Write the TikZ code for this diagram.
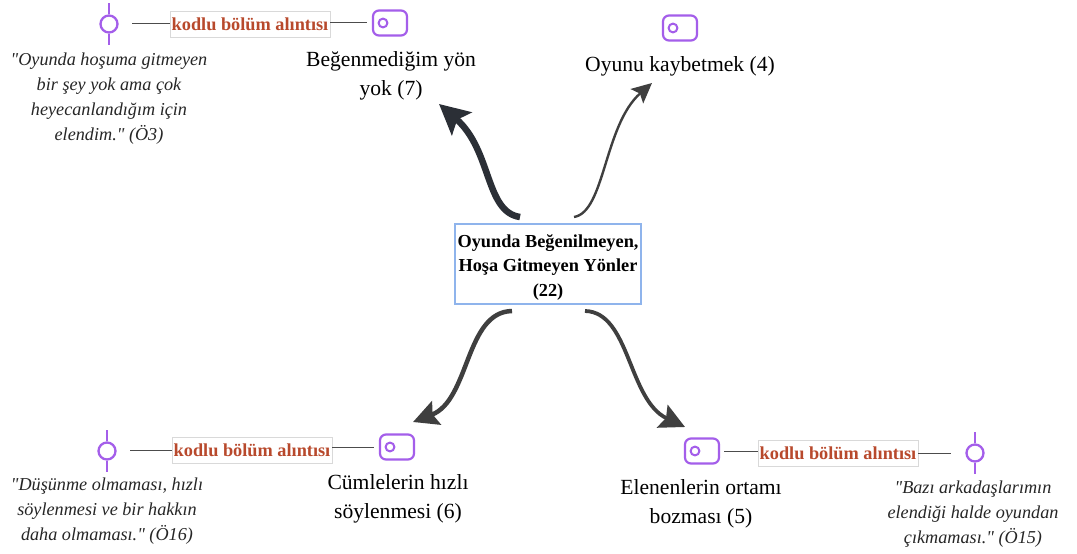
\documentclass[tikz,border=0pt]{standalone}
\usepackage{fontspec}
\setmainfont{Liberation Serif}
\newfontfamily\quotefont{Liberation Serif}
\usetikzlibrary{arrows.meta}
\definecolor{arrowdark}{HTML}{2B2F36}
\definecolor{arrowgrey}{HTML}{3F3F3F}
\definecolor{iconpurple}{HTML}{A45EEA}
\definecolor{boxblue}{HTML}{8FB4EC}
\definecolor{brick}{HTML}{B8492C}
\tikzset{
  x=1pt,y=-1pt,
  centerbox/.style={draw=boxblue,line width=1.4pt,fill=white,minimum width=186pt,minimum height=80pt,inner sep=0pt,align=center,font=\fontsize{18.3}{24.5}\selectfont\bfseries},
  topic/.style={align=center,font=\fontsize{21.6}{29.5}\selectfont,inner sep=0pt},
  quotetext/.style={align=center,font=\quotefont\fontsize{18.2}{25}\selectfont\itshape,text=black!85,inner sep=0pt},
  codelabel/.style={draw=black!15,line width=.6pt,fill=white,text=brick,inner sep=0pt,minimum width=160pt,minimum height=26pt,font=\fontsize{18.3}{20}\selectfont\bfseries},
  link/.style={draw=black!70,line width=1pt},
  iconline/.style={draw=iconpurple,line width=2.3pt},
  tagicon/.style={draw=iconpurple,line width=2.2pt,rounded corners=6pt,minimum width=34pt,minimum height=25pt,inner sep=0pt},
  pinicon/.style={circle,draw=iconpurple,line width=2.3pt,minimum size=17pt,inner sep=0pt},
  thickarrow/.style={arrowdark,line width=6.5pt,-{Stealth[length=30pt,width=30pt,inset=6pt]}},
  midarrow/.style={arrowgrey,line width=4.5pt,-{Stealth[length=25pt,width=25pt,inset=4pt]}},
  slimarrow/.style={arrowgrey,line width=3.8pt,-{Stealth[length=25pt,width=25pt,inset=4pt]}},
  thinarrow/.style={arrowgrey,line width=2.4pt,-{Stealth[length=20pt,width=19pt,inset=4pt]}},
}
\newcommand{\tagdot}[1]{\draw[iconline,line width=2pt] (#1) ++(-7,0) circle (4.4);}
\begin{document}
\begin{tikzpicture}
\useasboundingbox (0,0) rectangle (1077,554);
\fill[white] (0,0) rectangle (1077,554);
% centre
\node[centerbox] (c) at (548,264) {\raisebox{-7.5pt}[36pt][36pt]{\parbox{185pt}{\centering Oyunda Beğenilmeyen,\\Hoşa Gitmeyen Yönler\\(22)}}};
% topics
\node[topic] (t1) at (391,76) {Beğenmediğim yön\\yok (7)};
\node[topic] (t2) at (680,66) {Oyunu kaybetmek (4)};
\node[topic] (t3) at (398,499) {Cümlelerin hızlı\\söylenmesi (6)};
\node[topic] (t4) at (701,504) {Elenenlerin ortamı\\bozması (5)};
% quotes
\node[quotetext] (q1) at (109,98.5) {"Oyunda hoşuma gitmeyen\\bir şey yok ama çok\\heyecanlandığım için\\elendim." (Ö3)};
\node[quotetext] (q3) at (107,511) {"Düşünme olmaması, hızlı\\söylenmesi ve bir hakkın\\daha olmaması." (Ö16)};
\node[quotetext] (q4) at (973,514) {"Bazı arkadaşlarımın\\elendiği halde oyundan\\çıkmaması." (Ö15)};
% tag icons
\node[tagicon] (g1) at (390,23) {};
\node[tagicon] (g2) at (680,28) {};
\node[tagicon] (g3) at (397,447) {};
\node[tagicon] (g4) at (702,451) {};
\tagdot{g1}\tagdot{g2}\tagdot{g3}\tagdot{g4}
% pin icons
\node[pinicon] (p1) at (109,24) {};
\node[pinicon] (p3) at (107,451) {};
\node[pinicon] (p4) at (975,453) {};
\foreach \p in {p1,p3,p4}{
  \draw[iconline] (\p.north) -- ++(0,-11);
  \draw[iconline] (\p.south) -- ++(0,11);
}
% code labels
\node[codelabel] (k1) at (250,24) {kodlu bölüm alıntısı};
\node[codelabel] (k3) at (252,450) {kodlu bölüm alıntısı};
\node[codelabel] (k4) at (838,453) {kodlu bölüm alıntısı};
% links
\coordinate (p1r) at (132,23); \coordinate (g1l) at (367,22);
\coordinate (p3r) at (130,450); \coordinate (g3l) at (374,447);
\coordinate (g4r) at (724,451); \coordinate (p4l) at (951,453);
\draw[link] (p1r) -- (p1r -| k1.west);
\draw[link] (g1l -| k1.east) -- (g1l);
\draw[link] (p3r) -- (p3r -| k3.west);
\draw[link] (g3l -| k3.east) -- (g3l);
\draw[link] (g4r) -- (g4r -| k4.west);
\draw[link] (p4l -| k4.east) -- (p4l);
% main arrows
\coordinate (a1) at (520,217); \coordinate (e1) at (439,104);
\coordinate (a2) at (574,217); \coordinate (e2) at (652,83);
\coordinate (a3) at (512,311); \coordinate (e3) at (413,422);
\coordinate (a4) at (585,311); \coordinate (e4) at (685,427);
\draw[thickarrow] (a1) .. controls (485,212) and (492,150) .. (e1);
\draw[thinarrow] (a2) .. controls (605,212) and (604,125) .. (e2);
\draw[midarrow] (a3) .. controls (465,312) and (470,400) .. (e3);
\draw[slimarrow] (a4) .. controls (630,312) and (628,400) .. (e4);
\end{tikzpicture}
\end{document}
